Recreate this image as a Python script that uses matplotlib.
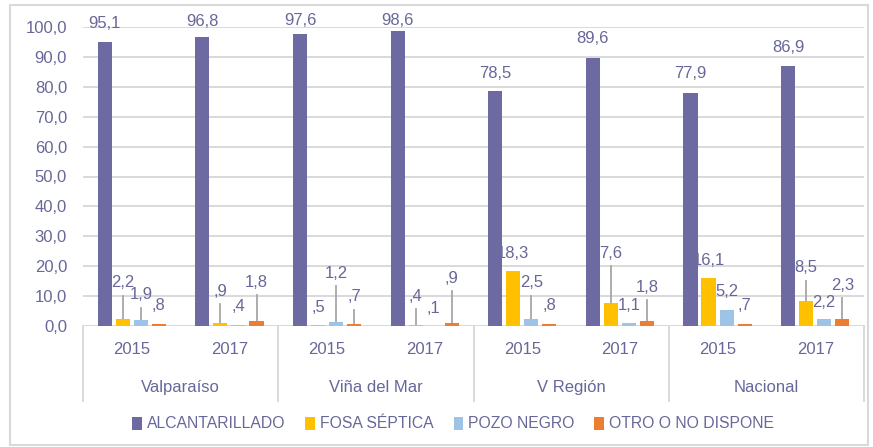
import matplotlib
matplotlib.use("Agg")
import matplotlib.pyplot as plt
from matplotlib.patches import Rectangle, Patch
import numpy as np

plt.rcParams['font.family'] = ['Liberation Sans Narrow', 'Liberation Sans', 'DejaVu Sans']

regions = ["Valparaíso", "Viña del Mar", "V Región", "Nacional"]
years = ["2015", "2017"]
series_names = ["ALCANTARILLADO", "FOSA SÉPTICA", "POZO NEGRO", "OTRO O NO DISPONE"]

# values per category (region x year), in order Valp15, Valp17, Viña15, Viña17, VR15, VR17, Nac15, Nac17
alcantarillado = [95.1, 96.8, 97.6, 98.6, 78.5, 89.6, 77.9, 86.9]
fosa_septica = [2.2, 0.9, 0.5, 0.4, 18.3, 7.6, 16.1, 8.5]
pozo_negro = [1.9, 0.4, 1.2, 0.1, 2.5, 1.1, 5.2, 2.2]
otro = [0.8, 1.8, 0.7, 0.9, 0.8, 1.8, 0.7, 2.3]

# heights where each data label sits (labels lifted off short bars get a leader line)
label_alc = [101.3, 102.0, 102.3, 102.3, 84.6, 96.0, 84.3, 93.3]
label_fosa = [14.4, 11.7, 6.3, 10.0, 24.4, 24.4, 22.0, 19.4]
label_pozo = [10.4, 6.4, 17.7, 6.0, 14.4, 7.0, 11.4, 7.7]
label_otro = [6.7, 14.7, 9.7, 16.0, 6.7, 13.0, 6.7, 13.7]

colors = ["#6C6AA0", "#FFC000", "#9DC3E6", "#ED7D31"]
text_color = "#67679A"
grid_color = "#D9D9D9"
fs = 12

W, H = 873, 447
fig = plt.figure(figsize=(W / 100, H / 100), dpi=100)
fig.patch.set_facecolor("white")

# outer chart frame
fig.add_artist(Rectangle((10 / W, 1 - 445 / H), (868 - 10) / W, (445 - 5) / H,
                         transform=fig.transFigure, fill=False,
                         edgecolor=grid_color, linewidth=1.5))

ax = fig.add_axes([83 / W, 1 - 326 / H, (864 - 83) / W, (326 - 27) / H])
ax.set_xlim(-0.5, 7.5)
ax.set_ylim(0, 100)
for s in ax.spines.values():
    s.set_visible(False)

ax.set_yticks(np.arange(0, 101, 10))
ax.set_yticklabels([f"{v:.1f}".replace(".", ",") for v in np.arange(0, 101, 10)])
ax.tick_params(axis="y", length=0, pad=11.5, labelsize=fs, labelcolor=text_color)
ax.tick_params(axis="x", length=0, labelbottom=False)
ax.set_xticks([])
ax.yaxis.grid(True, color=grid_color, linewidth=1.4)
ax.set_axisbelow(True)
ax.axhline(0, color=grid_color, linewidth=1.4, zorder=1)

x = np.arange(8)
step = 0.185
width = 0.145
all_series = [alcantarillado, fosa_septica, pozo_negro, otro]
all_labels = [label_alc, label_fosa, label_pozo, label_otro]


def fmt(v):
    s = f"{v:.1f}".replace(".", ",")
    if s.startswith("0"):
        s = s[1:]
    return s


for i, (vals, lab_y, col) in enumerate(zip(all_series, all_labels, colors)):
    xs = x + (i - 1.5) * step
    ax.bar(xs, vals, width=width, color=col, zorder=3)
    for xi, v, ly in zip(xs, vals, lab_y):
        ax.text(xi, ly, fmt(v), ha="center", va="center", fontsize=fs,
                color=text_color, zorder=2, clip_on=False)
        if ly - v > 8:
            ax.plot([xi, xi], [ly - 4.3, v], color="#A6A6A6", linewidth=1.3,
                    zorder=2, clip_on=False)

# two-level category axis
xt = ax.get_xaxis_transform()
for b in [-0.5, 1.5, 3.5, 5.5, 7.5]:
    ax.plot([b, b], [0, -0.25], color=grid_color, linewidth=1.4,
            transform=xt, clip_on=False)
for k in range(8):
    ax.text(k, -0.08, years[k % 2], ha="center", va="center", fontsize=fs,
            color=text_color, transform=xt)
for r, name in enumerate(regions):
    ax.text(2 * r + 0.5, -0.205, name, ha="center", va="center", fontsize=fs,
            color=text_color, transform=xt)

handles = [Patch(facecolor=c, edgecolor="none") for c in colors]
leg = fig.legend(handles, series_names, loc="center", ncol=4,
                 bbox_to_anchor=(453 / W, 1 - 424 / H), frameon=False,
                 fontsize=11.3, handlelength=0.6, handleheight=0.9,
                 handletextpad=0.3, columnspacing=1.3)
for t in leg.get_texts():
    t.set_color(text_color)

fig.savefig("out.png", dpi=100, facecolor="white")
